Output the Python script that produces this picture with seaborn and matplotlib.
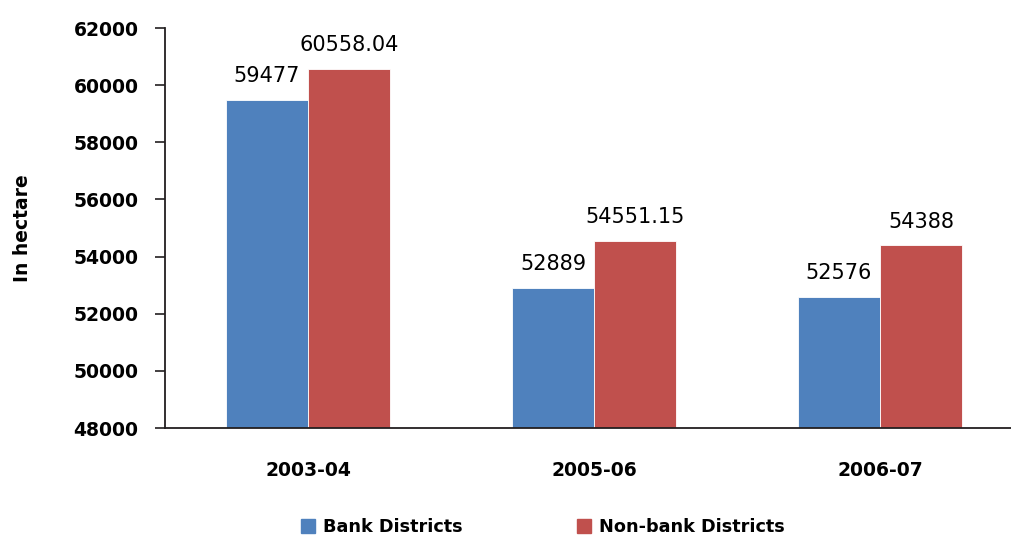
import matplotlib
matplotlib.use("Agg")
import matplotlib.pyplot as plt
import seaborn as sns
import pandas as pd
from matplotlib.lines import Line2D

categories = ["2003-04", "2005-06", "2006-07"]
series_names = ["Bank Districts", "Non-bank Districts"]
bank_values = [59477, 52889, 52576]
nonbank_values = [60558.04, 54551.15, 54388]
bank_labels = ["59477", "52889", "52576"]
nonbank_labels = ["60558.04", "54551.15", "54388"]
y_ticks = [48000, 50000, 52000, 54000, 56000, 58000, 60000, 62000]

colors = ["#4F81BD", "#C0504D"]

df = pd.DataFrame({
    "Year": categories * 2,
    "Series": [series_names[0]] * 3 + [series_names[1]] * 3,
    "Value": bank_values + nonbank_values,
})

sns.set_style("white")
plt.rcParams["font.family"] = ["DejaVu Sans"]
plt.rcParams["text.color"] = "black"
plt.rcParams["axes.labelcolor"] = "black"
plt.rcParams["xtick.color"] = "black"
plt.rcParams["ytick.color"] = "black"

fig = plt.figure(figsize=(10.11, 5.40), dpi=100)
ax = fig.add_axes([165 / 1011, 1 - 428 / 540, 858 / 1011, 400 / 540])

sns.barplot(data=df, x="Year", y="Value", hue="Series", palette=colors,
            width=0.574, ax=ax, legend=False, edgecolor="white", linewidth=0.6,
            saturation=1)

ax.set_ylim(48000, 62000)
ax.set_xlim(-0.5, 2.5)
ax.set_yticks(y_ticks)
ax.set_yticklabels([str(t) for t in y_ticks], fontsize=13.5, fontweight="bold")
ax.set_xticks(range(3))
ax.set_xticklabels(categories, fontsize=13.5, fontweight="bold")
ax.set_xticks([0.5, 1.5], minor=True)
ax.tick_params(axis="x", which="major", length=0, pad=24)
ax.tick_params(axis="x", which="minor", length=6, width=1.2, color="#231F20", direction="out")
ax.tick_params(axis="y", length=7, width=1.2, color="#231F20", direction="out", pad=12, left=True)
ax.set_xlabel("")
ax.set_ylabel("In hectare", fontsize=13.5, fontweight="bold", labelpad=30)

for side in ["top", "right"]:
    ax.spines[side].set_visible(False)
for side in ["left", "bottom"]:
    ax.spines[side].set_color("#231F20")
    ax.spines[side].set_linewidth(1.3)

# data labels
label_sets = [bank_labels, nonbank_labels]
for cont, labs in zip(ax.containers, label_sets):
    ax.bar_label(cont, labels=labs, padding=10, fontsize=15, color="black")

handles = [Line2D([0], [0], marker="s", linestyle="", markersize=10,
                  markerfacecolor=c, markeredgecolor=c) for c in colors]
fig.legend(handles, series_names, loc="center", bbox_to_anchor=(0.537, 1 - 527 / 540),
           ncol=2, frameon=False, prop={"size": 12.7, "weight": "bold"},
           columnspacing=6.5, handletextpad=0.45, handlelength=0.8)

fig.savefig("out.png", dpi=100)
